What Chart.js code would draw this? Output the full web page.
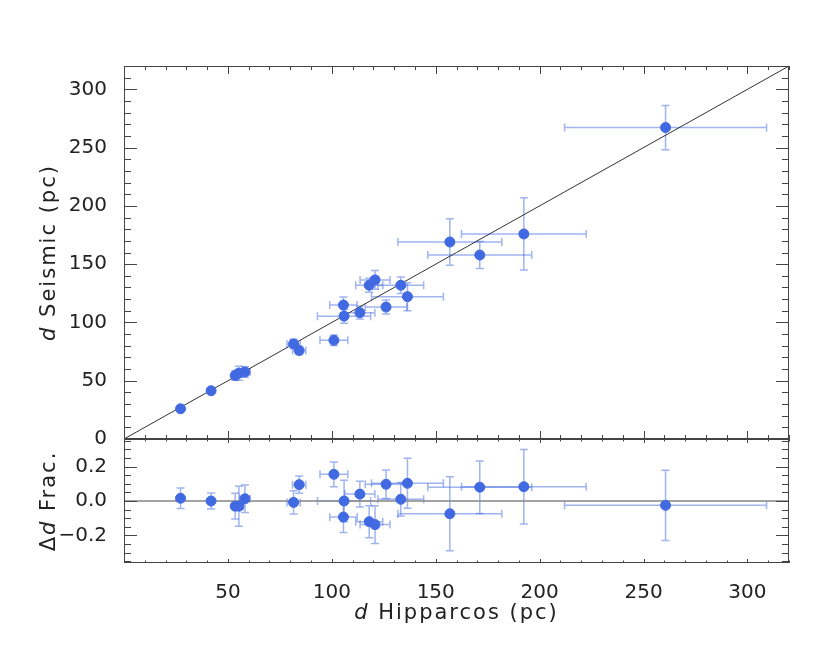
<!DOCTYPE html>
<html>
<head>
<meta charset="utf-8">
<script src="https://cdn.jsdelivr.net/npm/chart.js@4.4.0/dist/chart.umd.min.js"></script>
<style>
  html, body { margin: 0; padding: 0; background: #fff; }
  #wrap { position: relative; width: 830px; height: 664px; }
</style>
</head>
<body>
<div id="wrap"><canvas id="chart" width="830" height="664"></canvas></div>
<script>
// distances in pc
const dHip    = [27.2, 41.9, 53.5, 55.3, 58.2, 81.6, 84.3, 101.0, 105.6, 105.9, 113.5, 118.0, 120.8, 126.1, 133.2, 136.4, 156.8, 171.2, 192.4, 260.6];
const hipErr  = [0.5, 0.8, 1.5, 2.0, 2.5, 3.2, 3.2, 6.7, 6.6, 12.8, 7.2, 6.5, 7.2, 10.0, 11.0, 17.3, 25.0, 25.0, 30.0, 48.6];
const dSeis   = [25.9, 41.4, 54.5, 56.5, 57.5, 81.6, 75.9, 84.7, 114.9, 105.4, 108.4, 131.9, 136.5, 113.2, 131.9, 122.1, 169.0, 157.8, 175.9, 267.2];
const seisErr = [1.5, 2.0, 4.0, 6.0, 4.5, 4.0, 3.5, 4.5, 7.0, 6.0, 5.5, 6.0, 8.0, 6.0, 7.0, 12.0, 20.0, 11.6, 31.0, 19.0];
const frac    = [0.016, 0.0, -0.03, -0.03, 0.013, -0.008, 0.095, 0.155, -0.093, 0.0, 0.04, -0.12, -0.137, 0.097, 0.01, 0.103, -0.074, 0.08, 0.083, -0.025];
const fracErr = [0.06, 0.047, 0.075, 0.116, 0.08, 0.067, 0.05, 0.072, 0.09, 0.12, 0.075, 0.093, 0.11, 0.083, 0.097, 0.145, 0.215, 0.152, 0.216, 0.204];

const xRange = [0, 320];
const seisRange = [0, 320];
const fracRange = [-0.36, 0.36];
const xTicks = [50, 100, 150, 200, 250, 300];
const seisTicks = [0, 50, 100, 150, 200, 250, 300];
const fracTicks = [-0.2, 0.0, 0.2];

const blue = 'rgb(65, 105, 225)';
const barColor = 'rgba(65, 105, 225, 0.5)';
const axisColor = '#444';
const textColor = '#222';
const fontFamily = 'DejaVu Sans';

const ctx = document.getElementById('chart').getContext('2d');

const errorBars = {
  id: 'errorBars',
  beforeDatasetsDraw(chart) {
    const { ctx, scales } = chart;
    const x = scales.x;
    const cap = 4;
    ctx.save();
    ctx.strokeStyle = barColor;
    ctx.lineWidth = 1.5;
    const draw = (yScale, yVals, yErrs) => {
      dHip.forEach((v, i) => {
        const px = x.getPixelForValue(v);
        const py = yScale.getPixelForValue(yVals[i]);
        const x0 = x.getPixelForValue(v - hipErr[i]);
        const x1 = x.getPixelForValue(v + hipErr[i]);
        const y0 = yScale.getPixelForValue(yVals[i] - yErrs[i]);
        const y1 = yScale.getPixelForValue(yVals[i] + yErrs[i]);
        ctx.beginPath();
        ctx.moveTo(x0, py); ctx.lineTo(x1, py);
        ctx.moveTo(x0, py - cap); ctx.lineTo(x0, py + cap);
        ctx.moveTo(x1, py - cap); ctx.lineTo(x1, py + cap);
        ctx.moveTo(px, y0); ctx.lineTo(px, y1);
        ctx.moveTo(px - cap, y0); ctx.lineTo(px + cap, y0);
        ctx.moveTo(px - cap, y1); ctx.lineTo(px + cap, y1);
        ctx.stroke();
      });
    };
    draw(scales.ySeis, dSeis, seisErr);
    draw(scales.yFrac, frac, fracErr);
    ctx.restore();
  }
};

// box round each panel with inward ticks on all four sides
function drawPanel(ctx, x, y, yStep, yMajorEvery, xLen, yLen) {
  const left = x.left, right = x.right, top = y.top, bottom = y.bottom;
  ctx.strokeStyle = axisColor;
  ctx.lineWidth = 1;
  ctx.strokeRect(left + 0.5, top + 0.5, right - left - 1, bottom - top - 1);
  ctx.beginPath();
  for (let v = xRange[0]; v <= xRange[1]; v += 10) {
    const px = Math.round(x.getPixelForValue(v)) + 0.5;
    const len = v % 50 === 0 ? xLen[0] : xLen[1];
    ctx.moveTo(px, bottom); ctx.lineTo(px, bottom - len);
    ctx.moveTo(px, top); ctx.lineTo(px, top + len);
  }
  const k0 = Math.ceil(y.min / yStep - 1e-6), k1 = Math.floor(y.max / yStep + 1e-6);
  for (let k = k0; k <= k1; k++) {
    const py = Math.round(y.getPixelForValue(k * yStep)) + 0.5;
    const len = k % yMajorEvery === 0 ? yLen[0] : yLen[1];
    ctx.moveTo(left, py); ctx.lineTo(left + len, py);
    ctx.moveTo(right, py); ctx.lineTo(right - len, py);
  }
  ctx.stroke();
}

function drawMixed(ctx, parts, cx, cy, rot, size) {
  ctx.save();
  ctx.translate(cx, cy);
  ctx.rotate(rot);
  ctx.fillStyle = textColor;
  ctx.textBaseline = 'middle';
  ctx.letterSpacing = '2px';
  let w = 0;
  parts.forEach(p => {
    ctx.font = (p.italic ? 'italic ' : '') + size + 'px ' + fontFamily;
    p.w = ctx.measureText(p.t).width;
    w += p.w;
  });
  let pos = -w / 2;
  parts.forEach(p => {
    ctx.font = (p.italic ? 'italic ' : '') + size + 'px ' + fontFamily;
    ctx.fillText(p.t, pos, 0);
    pos += p.w;
  });
  ctx.restore();
}

const frame = {
  id: 'frame',
  afterDraw(chart) {
    const { ctx, scales } = chart;
    ctx.save();
    drawPanel(ctx, scales.x, scales.ySeis, 10, 5, [8, 4], [13, 7]);
    drawPanel(ctx, scales.x, scales.yFrac, 0.05, 4, [4, 2.5], [13, 7]);
    ctx.restore();
    const a = chart.chartArea;
    drawMixed(ctx, [{ t: 'd', italic: true }, { t: ' Hipparcos (pc)' }], (a.left + a.right) / 2, 614, 0, 21);
    const s = scales.ySeis;
    drawMixed(ctx, [{ t: 'd', italic: true }, { t: ' Seismic (pc)' }], 50, (s.top + s.bottom) / 2, -Math.PI / 2, 21);
    const f = scales.yFrac;
    drawMixed(ctx, [{ t: '\u0394' }, { t: 'd', italic: true }, { t: ' Frac.' }], 50, (f.top + f.bottom) / 2, -Math.PI / 2, 21);
  }
};

const tickStyle = { font: { family: fontFamily, size: 20 }, color: textColor };

new Chart(ctx, {
  type: 'scatter',
  data: {
    datasets: [
      {
        label: 'one to one',
        type: 'line',
        data: xRange.map(v => ({ x: v, y: v })),
        yAxisID: 'ySeis',
        borderColor: '#333',
        borderWidth: 1,
        pointRadius: 0,
        order: 3
      },
      {
        label: 'd Seismic',
        data: dHip.map((v, i) => ({ x: v, y: dSeis[i] })),
        yAxisID: 'ySeis',
        backgroundColor: blue,
        borderColor: blue,
        pointRadius: 5,
        pointHoverRadius: 5,
        order: 1
      },
      {
        label: 'zero',
        type: 'line',
        data: xRange.map(v => ({ x: v, y: 0 })),
        yAxisID: 'yFrac',
        borderColor: 'rgba(140, 140, 140, 0.8)',
        borderWidth: 2,
        pointRadius: 0,
        order: 3
      },
      {
        label: 'Frac',
        data: dHip.map((v, i) => ({ x: v, y: frac[i] })),
        yAxisID: 'yFrac',
        backgroundColor: blue,
        borderColor: blue,
        pointRadius: 5,
        pointHoverRadius: 5,
        order: 1
      }
    ]
  },
  options: {
    responsive: false,
    animation: false,
    events: [],
    layout: { padding: { top: 66, right: 41, bottom: 41, left: 0 } },
    plugins: { legend: { display: false }, tooltip: { enabled: false } },
    scales: {
      x: {
        type: 'linear',
        position: 'bottom',
        min: xRange[0],
        max: xRange[1],
        grid: { display: false },
        border: { display: false },
        ticks: Object.assign({ padding: 10, maxRotation: 0 }, tickStyle),
        afterBuildTicks: s => { s.ticks = xTicks.map(v => ({ value: v })); },
        afterFit: s => { s.height = 60; }
      },
      yFrac: {
        type: 'linear',
        position: 'left',
        stack: 'panels',
        stackWeight: 124,
        min: fracRange[0],
        max: fracRange[1],
        grid: { display: false },
        border: { display: false },
        ticks: Object.assign({
          padding: 9,
          callback: v => (v < 0 ? '\u2212' : '') + Math.abs(v).toFixed(1)
        }, tickStyle),
        afterBuildTicks: s => { s.ticks = fracTicks.map(v => ({ value: v })); },
        afterFit: s => { s.width = 124; }
      },
      ySeis: {
        type: 'linear',
        position: 'left',
        stack: 'panels',
        stackWeight: 373,
        min: seisRange[0],
        max: seisRange[1],
        grid: { display: false },
        border: { display: false },
        ticks: Object.assign({ padding: 9 }, tickStyle),
        afterBuildTicks: s => { s.ticks = seisTicks.map(v => ({ value: v })); },
        afterFit: s => { s.width = 124; }
      }
    }
  },
  plugins: [errorBars, frame]
});
</script>
</body>
</html>
